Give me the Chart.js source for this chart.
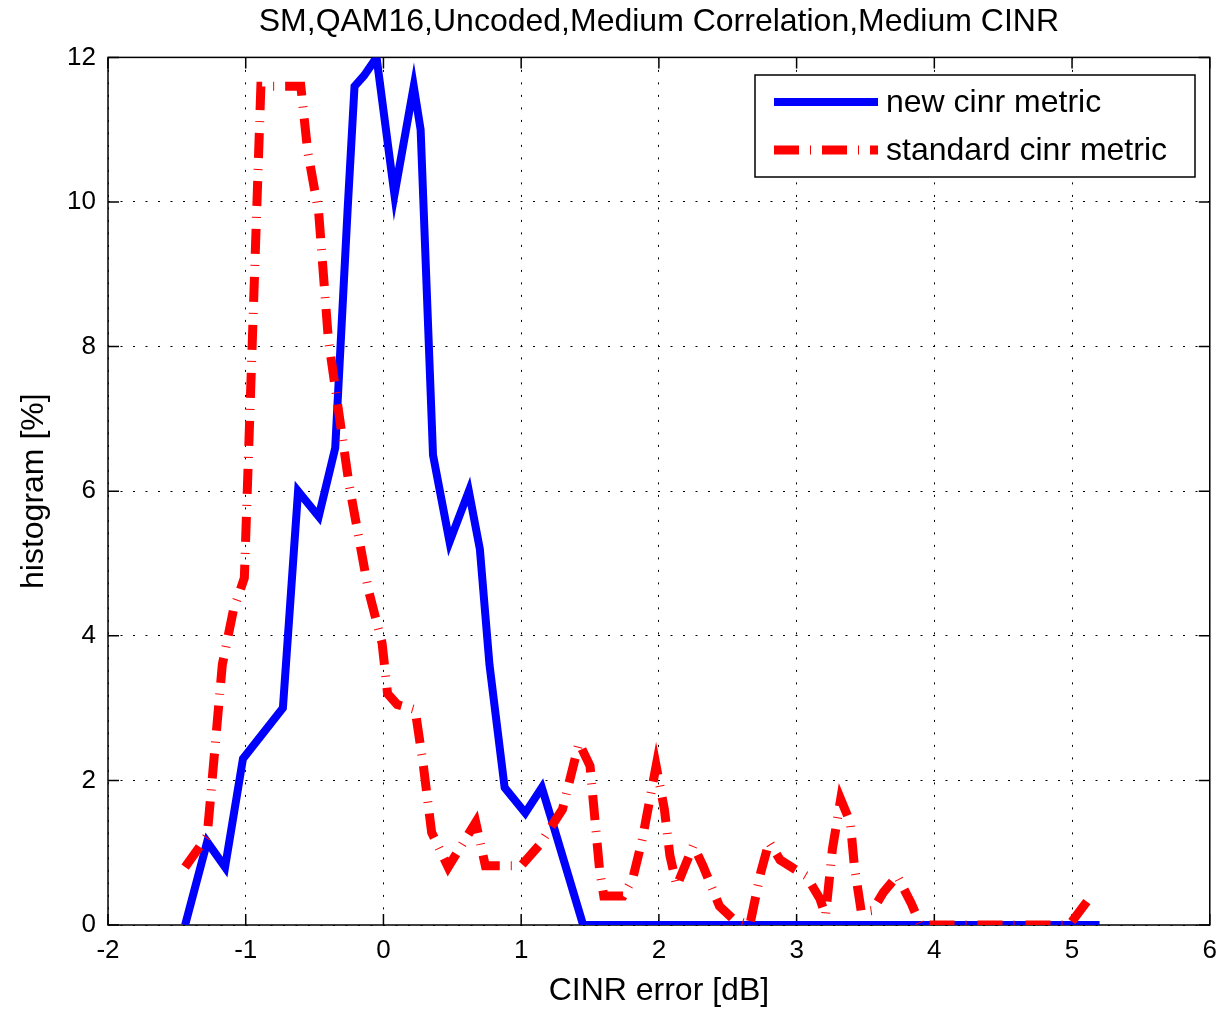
<!DOCTYPE html>
<html>
<head>
<meta charset="utf-8">
<title>CINR error histogram</title>
<script src="https://cdn.jsdelivr.net/npm/chart.js@4"></script>
<style>
  body { margin: 0; background: #fff; }
  canvas { display: block; }
</style>
</head>
<body>
<canvas id="hist" width="1227" height="1018"></canvas>
<script>
let xTicks = [-2, -1, 0, 1, 2, 3, 4, 5, 6];
let yTicks = [0, 2, 4, 6, 8, 10, 12];

let newErr = [-1.44,-1.28,-1.15,-1.02,-0.73,-0.62,-0.47,-0.35,-0.26,-0.21,-0.14,-0.05,0.08,0.22,0.27,0.36,0.48,0.62,0.70,0.77,0.88,1.03,1.15,1.23,1.45,5.2];
let newHist = [0,1.15,0.8,2.3,3.0,6.0,5.65,6.6,9.9,11.6,11.75,12.0,10.1,11.6,11.0,6.5,5.3,6.0,5.2,3.6,1.9,1.55,1.9,1.4,0,0];

let stdErr = [-1.44,-1.28,-1.17,-1.09,-1.01,-0.89,-0.6,-0.55,-0.47,-0.40,-0.25,-0.11,-0.01,0.03,0.1,0.23,0.29,0.35,0.47,0.67,0.74,1.0,1.13,1.3,1.42,1.5,1.57,1.6,1.74,1.81,1.88,1.98,2.04,2.08,2.13,2.25,2.32,2.44,2.54,2.66,2.74,2.8,2.88,2.98,3.07,3.17,3.21,3.26,3.32,3.39,3.42,3.47,3.55,3.63,3.73,3.83,3.9,4.98,5.15];
let stdHist = [0.8,1.23,3.6,4.35,4.8,11.6,11.6,10.7,9.85,8.1,6.1,4.64,3.9,3.2,3.05,2.98,2.2,1.28,0.8,1.42,0.82,0.82,1.1,1.6,2.52,2.2,0.75,0.4,0.4,0.64,1.19,2.2,1.6,0.96,0.54,1.1,0.82,0.26,0.08,0,0.73,1.15,0.9,0.78,0.68,0.36,0.13,1.05,1.74,1.42,0.8,0.18,0.2,0.45,0.68,0.31,0,0,0.43];

const FONT = '"Liberation Sans", Arial, Helvetica, sans-serif';

function pairs(xs, ys) {
    return xs.map((x, i) => ({ x: x, y: ys[i] }));
}

// box round the plot, inward ticks on all four sides, and the legend
const matlabAxes = {
    id: 'matlabAxes',
    beforeDatasetsDraw(chart) {
        const { ctx, chartArea: a, scales } = chart;
        ctx.save();
        ctx.strokeStyle = '#000';
        ctx.lineWidth = 1.5;
        ctx.strokeRect(a.left, a.top, a.right - a.left, a.bottom - a.top);
        ctx.beginPath();
        const tl = 11;
        xTicks.forEach(v => {
            const px = scales.x.getPixelForValue(v);
            ctx.moveTo(px, a.bottom); ctx.lineTo(px, a.bottom - tl);
            ctx.moveTo(px, a.top); ctx.lineTo(px, a.top + tl);
        });
        yTicks.forEach(v => {
            const py = scales.y.getPixelForValue(v);
            ctx.moveTo(a.left, py); ctx.lineTo(a.left + tl, py);
            ctx.moveTo(a.right, py); ctx.lineTo(a.right - tl, py);
        });
        ctx.stroke();
        ctx.restore();
    },
    afterDraw(chart) {
        const ctx = chart.ctx;
        const box = { x: 755, y: 75, w: 440, h: 102 };
        ctx.save();
        ctx.fillStyle = '#fff';
        ctx.fillRect(box.x, box.y, box.w, box.h);
        ctx.strokeStyle = '#000';
        ctx.lineWidth = 1.5;
        ctx.strokeRect(box.x, box.y, box.w, box.h);

        const rows = [102, 150];
        chart.data.datasets.forEach((ds, i) => {
            const y = rows[i];
            ctx.beginPath();
            ctx.strokeStyle = ds.borderColor;
            ctx.lineWidth = ds.borderWidth;
            ctx.lineCap = 'butt';
            ctx.setLineDash(ds.borderDash || []);
            ctx.moveTo(774, y);
            ctx.lineTo(878, y);
            ctx.stroke();
            ctx.setLineDash([]);
            ctx.fillStyle = '#000';
            ctx.font = '32px ' + FONT;
            ctx.textAlign = 'left';
            ctx.textBaseline = 'middle';
            ctx.fillText(ds.label, 886, y + 1);
        });
        ctx.restore();
    }
};

const ctx = document.getElementById('hist').getContext('2d');
const histChart = new Chart(ctx, {
    type: 'line',
    data: {
        datasets: [
            {
                label: 'new cinr metric',
                data: pairs(newErr, newHist),
                borderColor: '#0000ff',
                borderWidth: 8,
                pointRadius: 0,
                tension: 0,
                fill: false,
                order: 1
            },
            {
                label: 'standard cinr metric',
                data: pairs(stdErr, stdHist),
                borderColor: '#ff0000',
                borderWidth: 9,
                borderDash: [25, 11, 1, 11],
                borderCapStyle: 'butt',
                pointRadius: 0,
                tension: 0,
                fill: false,
                order: 0
            }
        ]
    },
    options: {
        responsive: false,
        animation: false,
        layout: { padding: { left: 0, right: 15, top: 0, bottom: 0 } },
        scales: {
            x: {
                type: 'linear',
                min: -2,
                max: 6,
                afterFit: s => { s.height = 93; },
                ticks: {
                    stepSize: 1,
                    padding: 10,
                    color: '#000',
                    font: { family: FONT, size: 26 }
                },
                grid: { color: '#000', lineWidth: 1, drawTicks: false },
                border: { display: false, dash: [2, 10.5] },
                title: {
                    display: true,
                    text: 'CINR error [dB]',
                    color: '#000',
                    font: { family: FONT, size: 32 },
                    padding: { top: 0, bottom: 8 }
                }
            },
            y: {
                min: 0,
                max: 12,
                afterFit: s => { s.width = 108; },
                ticks: {
                    stepSize: 2,
                    padding: 12,
                    color: '#000',
                    font: { family: FONT, size: 26 }
                },
                grid: { color: '#000', lineWidth: 1, drawTicks: false },
                border: { display: false, dash: [2, 10.5] },
                title: {
                    display: true,
                    text: 'histogram [%]',
                    color: '#000',
                    font: { family: FONT, size: 32 },
                    padding: { top: 15, bottom: 0 }
                }
            }
        },
        plugins: {
            legend: { display: false },
            tooltip: { enabled: false },
            title: {
                display: true,
                fullSize: false,
                text: 'SM,QAM16,Uncoded,Medium Correlation,Medium CINR',
                color: '#000',
                font: { family: FONT, size: 32, weight: 'normal' },
                padding: { top: 3, bottom: 16 }
            }
        }
    },
    plugins: [matlabAxes]
});
</script>
</body>
</html>
